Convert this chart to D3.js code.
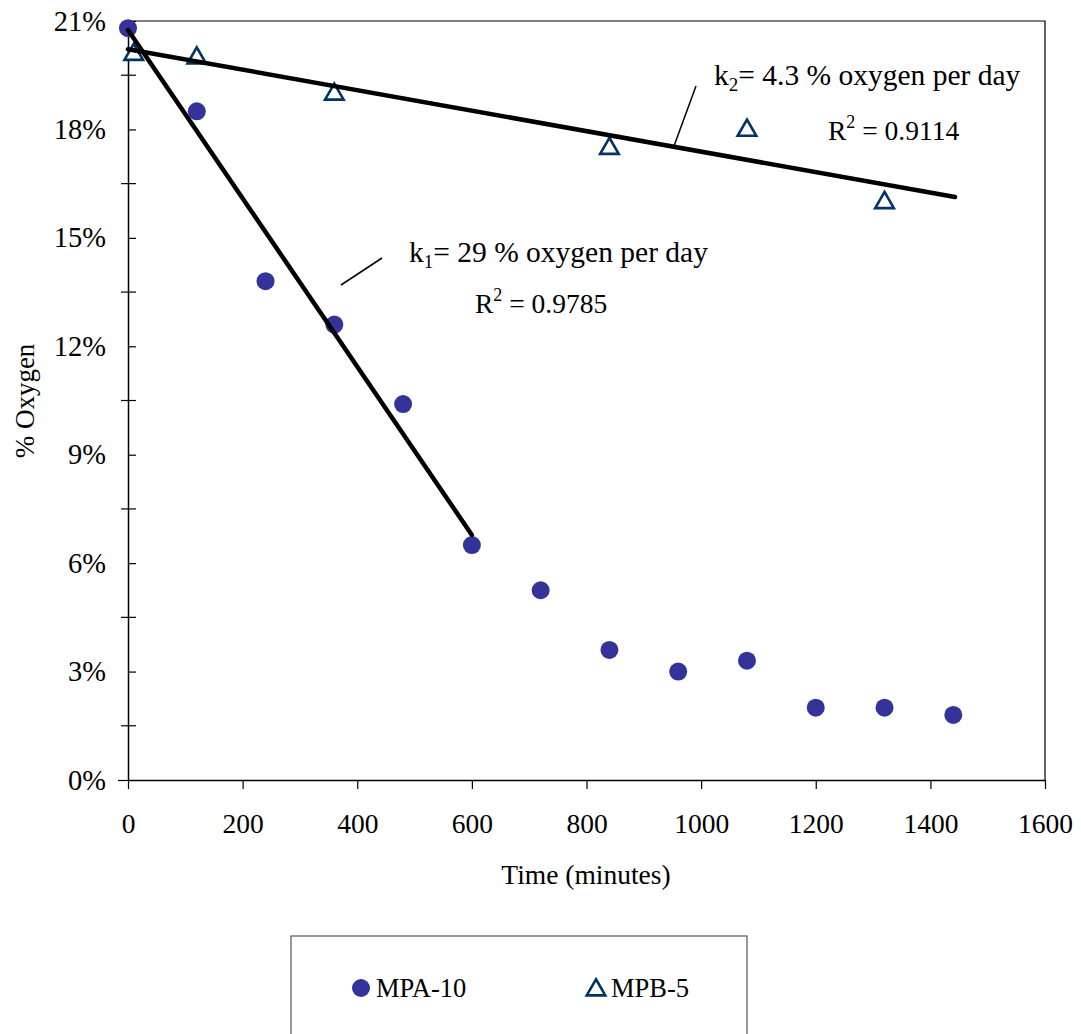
<!DOCTYPE html>
<html>
<head>
<meta charset="utf-8">
<script src="https://cdn.jsdelivr.net/npm/d3@7"></script>
<style>
  body { margin: 0; background: #fff; }
  svg text { font-family: "Liberation Serif", "Times New Roman", serif; fill: #000; }
</style>
</head>
<body>
<svg id="chart"></svg>
<script>
// ---- data ----
const mpaTime   = [0, 120, 240, 360, 480, 600, 720, 840, 960, 1080, 1200, 1320, 1440];
const mpaOxygen = [20.8, 18.5, 13.8, 12.6, 10.4, 6.5, 5.25, 3.6, 3.0, 3.3, 2.0, 2.0, 1.8];
const mpbTime   = [10, 120, 360, 840, 1080, 1320];
const mpbOxygen = [20.1, 20.0, 19.0, 17.5, 18.0, 16.0];
// fitted trend lines: [start, end] as [time, %]
const fit1 = [[0, 20.75], [600, 6.78]];
const fit2 = [[0, 20.22], [1443, 16.13]];
const xTicks = [0, 200, 400, 600, 800, 1000, 1200, 1400, 1600];
const yTicks = [0, 3, 6, 9, 12, 15, 18, 21];
const yMinor = [1.5, 4.5, 7.5, 10.5, 13.5, 16.5, 19.5];
const seriesNames = ["MPA-10", "MPB-5"];

// ---- config ----
const width = 1081, height = 1034;
const plotL = 128, plotR = 1045, plotT = 21, plotB = 780;
const circleColor = "#333399", triColor = "#003366";

const svg = d3.select("#chart").attr("width", width).attr("height", height);

const x = d3.scaleLinear([0, 1600], [plotL, plotR]);
const y = d3.scaleLinear([0, 21], [plotB, plotT]);

// frame (top + right)
svg.append("path")
  .attr("d", `M${plotL},${plotT}H${plotR}V${plotB}`)
  .attr("fill", "none").attr("stroke", "#000").attr("stroke-width", 1.2);

// x axis
const xAxis = svg.append("g").attr("transform", `translate(0,${plotB})`)
  .call(d3.axisBottom(x).tickValues(xTicks).tickSize(9).tickPadding(24)
    .tickSizeOuter(0).tickFormat(d3.format("d")));
xAxis.select(".domain").attr("stroke-width", 1.5);
xAxis.selectAll(".tick line").attr("stroke-width", 1.2);
xAxis.selectAll("text").attr("font-size", 27.5);

// y axis – ticks cross the axis line
const yAxis = svg.append("g").attr("transform", `translate(${plotL},0)`)
  .call(d3.axisLeft(y).tickValues(yTicks).tickSize(7).tickPadding(15)
    .tickSizeOuter(0).tickFormat(d => d + "%"));
yAxis.select(".domain").attr("stroke-width", 1.5);
yAxis.selectAll(".tick line").attr("x2", 8).attr("stroke-width", 1.2);
yAxis.selectAll(".tick").filter(d => d === 0).select("line").attr("x1", -10).attr("x2", 0);
yAxis.selectAll("text").attr("font-size", 28.5);

svg.append("g").selectAll("line").data(yMinor).join("line")
  .attr("x1", plotL - 7).attr("x2", plotL + 8)
  .attr("y1", d => y(d)).attr("y2", d => y(d))
  .attr("stroke", "#000").attr("stroke-width", 1.2);

// axis titles
svg.append("text").attr("x", 586).attr("y", 884).attr("text-anchor", "middle")
  .attr("font-size", 27.5).text("Time (minutes)");
svg.append("text").attr("transform", "translate(34,401) rotate(-90)")
  .attr("text-anchor", "middle").attr("font-size", 27).text("% Oxygen");

// MPA-10 points
svg.append("g").selectAll("circle").data(d3.zip(mpaTime, mpaOxygen)).join("circle")
  .attr("cx", d => x(d[0])).attr("cy", d => y(d[1])).attr("r", 9)
  .attr("fill", circleColor);

// MPB-5 points
const tri = d3.symbol(d3.symbolTriangle, 150);
svg.append("g").selectAll("path").data(d3.zip(mpbTime, mpbOxygen)).join("path")
  .attr("d", tri)
  .attr("transform", d => `translate(${x(d[0])},${y(d[1]) + 1})`)
  .attr("fill", "#fff").attr("stroke", triColor).attr("stroke-width", 2.6);

// trend lines
const line = d3.line().x(d => x(d[0])).y(d => y(d[1]));
[fit1, fit2].forEach(f => {
  svg.append("path").attr("d", line(f)).attr("fill", "none")
    .attr("stroke", "#000").attr("stroke-width", 4.5).attr("stroke-linecap", "round");
});

// annotations + leader lines
svg.append("line").attr("x1", 341).attr("y1", 285).attr("x2", 382).attr("y2", 258)
  .attr("stroke", "#000").attr("stroke-width", 1.5);
svg.append("line").attr("x1", 674).attr("y1", 146).attr("x2", 696).attr("y2", 86)
  .attr("stroke", "#000").attr("stroke-width", 1.5);

function label(xp, yp, k, sub, rest) {
  const t = svg.append("text").attr("x", xp).attr("y", yp).attr("font-size", 29.5);
  t.append("tspan").text(k);
  t.append("tspan").attr("font-size", 19).attr("dy", 6).text(sub);
  t.append("tspan").attr("dy", -6).text(rest);
}
function rsq(xp, yp, val) {
  const t = svg.append("text").attr("x", xp).attr("y", yp).attr("font-size", 27.5);
  t.append("tspan").text("R");
  t.append("tspan").attr("font-size", 18).attr("dy", -12).text("2");
  t.append("tspan").attr("dy", 12).text(" = " + val);
}
label(409, 262, "k", "1", "= 29 % oxygen per day");
rsq(475, 313, "0.9785");
label(714, 85, "k", "2", "= 4.3 % oxygen per day");
rsq(828, 140, "0.9114");

// legend
svg.append("rect").attr("x", 291).attr("y", 936).attr("width", 456).attr("height", 120)
  .attr("fill", "#fff").attr("stroke", "#555").attr("stroke-width", 1.2);
svg.append("circle").attr("cx", 361).attr("cy", 988).attr("r", 9).attr("fill", circleColor);
svg.append("text").attr("x", 376).attr("y", 997).attr("font-size", 26.5).text(seriesNames[0]);
svg.append("path").attr("d", tri).attr("transform", "translate(596,990)")
  .attr("fill", "#fff").attr("stroke", triColor).attr("stroke-width", 2.6);
svg.append("text").attr("x", 611).attr("y", 997).attr("font-size", 26.5).text(seriesNames[1]);
</script>
</body>
</html>
